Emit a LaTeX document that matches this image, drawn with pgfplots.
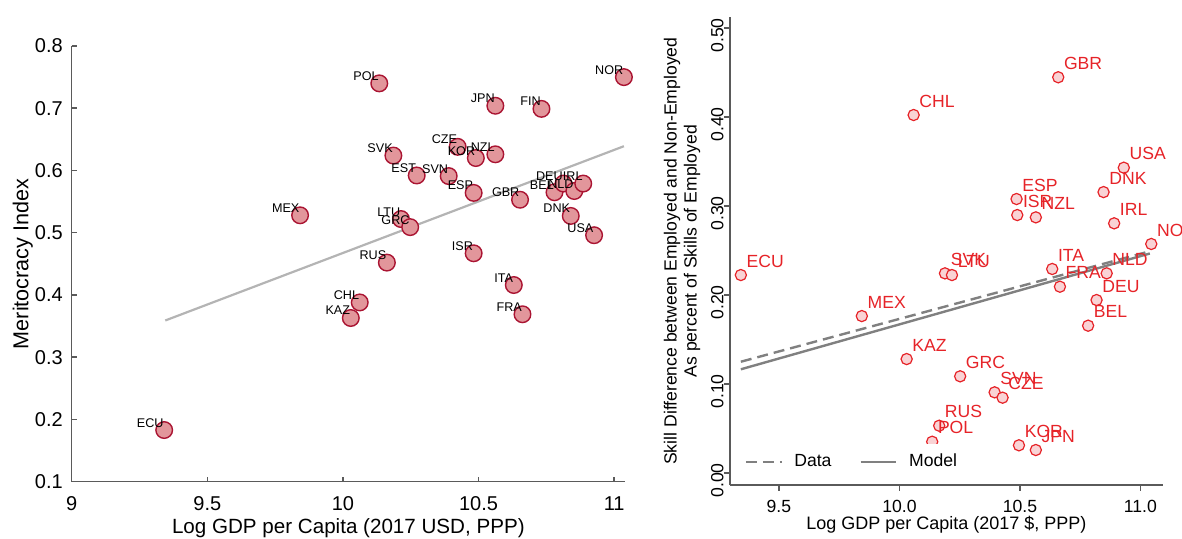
\documentclass[border=0pt]{standalone}
\usepackage{pgfplots}
\usepackage{pgfplotstable}
\pgfplotsset{compat=1.18}
\usepackage{fontspec}
\setmainfont{Liberation Sans}

\definecolor{lmfill}{HTML}{E2969B}
\definecolor{lmline}{HTML}{AA1432}
\definecolor{rmfill}{HTML}{F9D3D5}
\definecolor{rmred}{HTML}{E62328}
\definecolor{fitgray}{HTML}{B4B4B4}
\definecolor{modgray}{HTML}{808080}
\definecolor{axgray}{HTML}{5A5A5A}

% Meritocracy index against log GDP per capita
\pgfplotstableread{
x      y      lab
9.341  0.183  ECU
9.842  0.528  MEX
10.134 0.740  POL
10.562 0.704  JPN
10.732 0.699  FIN
11.036 0.750  NOR
10.423 0.638  CZE
10.490 0.620  KOR
10.562 0.626  NZL
10.186 0.624  SVK
10.272 0.592  EST
10.390 0.591  SVN
10.482 0.564  ESP
10.653 0.553  GBR
10.780 0.565  BEL
10.813 0.579  DEU
10.853 0.567  NLD
10.886 0.579  IRL
10.840 0.527  DNK
10.926 0.496  USA
10.214 0.522  LTU
10.248 0.509  GRC
10.482 0.467  ISR
10.162 0.452  RUS
10.630 0.416  ITA
10.662 0.369  FRA
10.062 0.388  CHL
10.029 0.363  KAZ
}\meritdata

% Skill gap between employed and non-employed
\pgfplotstableread{
x      y      lab
9.342  0.2228 ECU
9.844  0.1767 MEX
10.030 0.1284 KAZ
10.059 0.4026 CHL
10.659 0.4450 GBR
10.931 0.3434 USA
10.847 0.3160 DNK
10.486 0.3082 ESP
10.489 0.2902 ISR
10.566 0.2876 NZL
10.891 0.2809 IRL
11.045 0.2577 NOR
10.189 0.2247 SVK
10.218 0.2228 LTU
10.634 0.2296 ITA
10.860 0.2247 NLD
10.666 0.2097 FRA
10.818 0.1947 DEU
10.783 0.1659 BEL
10.252 0.1090 GRC
10.395 0.0910 SVN
10.428 0.0850 CZE
10.165 0.0535 RUS
10.136 0.0355 POL
10.496 0.0315 KOR
10.566 0.0262 JPN
}\skilldata

\begin{document}
\begin{tikzpicture}
\useasboundingbox (0,0) rectangle (591pt,269.5pt);
\clip (0,0) rectangle (591pt,262pt);

% ---------------- left panel ----------------
\begin{axis}[
  at={(35.85pt,28.65pt)}, anchor=south west,
  scale only axis, width=276.65pt, height=217.85pt,
  xmin=9, xmax=11.04, ymin=0.1, ymax=0.8,
  axis x line*=bottom, axis y line*=left,
  axis line style={axgray, line width=0.75pt, -},
  xtick={9,9.5,10,10.5,11},
  ytick={0.1,0.2,0.3,0.4,0.5,0.6,0.7,0.8},
  tick align=inside, major tick length=2.5pt,
  tick style={axgray, line width=0.75pt},
  /pgf/number format/assume math mode=true,
  ticklabel style={font=\fontsize{10}{12}\selectfont, text=black},
  yticklabel style={anchor=east, inner sep=0pt, xshift=-4.3pt},
  xticklabel style={anchor=north, inner sep=0pt, yshift=-7.2pt},
  xlabel={Log GDP per Capita (2017 USD, PPP)},
  ylabel={Meritocracy Index},
  every axis x label/.style={at={(axis description cs:0.5,-0.12)}, anchor=base, font=\fontsize{10.3}{12}\selectfont},
  every axis y label/.style={at={(axis description cs:-0.0784,0.5)}, rotate=90, anchor=base, font=\fontsize{10.8}{12}\selectfont},
  clip=false,
]
\addplot[fitgray, line width=1.1pt] coordinates {(9.345,0.359) (11.036,0.639)};
\addplot[only marks, mark=*, mark size=4.15pt,
  mark options={fill=lmfill, draw=lmline, line width=0.7pt},
  nodes near coords, point meta=explicit symbolic,
  every node near coord/.append style={anchor=base east, inner sep=0pt, yshift=1.5pt,
    font=\fontsize{6.3}{7}\selectfont, text=black}]
  table[x=x, y=y, meta=lab] {\meritdata};
\end{axis}

% ---------------- right panel ----------------
\begin{axis}[
  at={(365pt,27pt)}, anchor=south west,
  scale only axis, width=216.35pt, height=233.85pt,
  xmin=9.297, xmax=11.0925, ymin=-0.0131, ymax=0.5124,
  axis x line*=bottom, axis y line*=left,
  axis line style={axgray, line width=0.9pt, -},
  xtick={9.5,10,10.5,11},
  ytick={0,0.1,0.2,0.3,0.4,0.5},
  tick align=outside, major tick length=3pt,
  tick style={axgray, line width=0.9pt},
  /pgf/number format/assume math mode=true,
  ticklabel style={font=\fontsize{8.8}{10}\selectfont, text=black},
  xticklabel style={anchor=north, inner sep=0pt, yshift=-4.5pt,
    /pgf/number format/fixed, /pgf/number format/fixed zerofill, /pgf/number format/precision=1},
  yticklabel style={rotate=90, anchor=south, inner sep=0pt, xshift=-3.6pt,
    /pgf/number format/fixed, /pgf/number format/fixed zerofill, /pgf/number format/precision=2},
  xlabel={Log GDP per Capita (2017 \$, PPP)},
  ylabel={Skill Difference between Employed and Non-Employed\\As percent of Skills of Employed},
  every axis x label/.style={at={(axis description cs:0.5,-0.0962)}, anchor=base, font=\fontsize{9}{10}\selectfont},
  every axis y label/.style={at={(axis description cs:-0.111,0.5)}, rotate=90, anchor=center, align=center, inner sep=0pt, font=\fontsize{8.8}{10}\selectfont},
  legend style={at={(axis description cs:0.0192,0.0498)}, anchor=west, draw=none, fill=white,
    font=\fontsize{8.8}{10}\selectfont, legend columns=2, inner xsep=3pt, inner ysep=5pt,
    nodes={inner sep=0pt},
    /tikz/every odd column/.append style={column sep=5.8pt},
    /tikz/every even column/.append style={column sep=14pt}},
  legend image code/.code={\draw[#1] (0pt,0pt) -- (17.8pt,0pt);},
  clip=false,
]
\addplot[only marks, mark=*, mark size=2.8pt, forget plot,
  mark options={fill=rmfill, draw=rmred, line width=0.6pt},
  nodes near coords, point meta=explicit symbolic,
  every node near coord/.append style={anchor=base west, inner sep=0pt, xshift=2.6pt, yshift=3.9pt,
    font=\fontsize{8.8}{10}\selectfont, text=rmred}]
  table[x=x, y=y, meta=lab] {\skilldata};
\addplot[modgray, line width=1.2pt, dash pattern=on 5.5pt off 3pt] coordinates {(9.342,0.1254) (11.039,0.2495)};
\addlegendentry{Data}
\addplot[modgray, line width=1.2pt] coordinates {(9.342,0.1169) (11.039,0.2470)};
\addlegendentry{Model}
\end{axis}
\end{tikzpicture}
\end{document}
